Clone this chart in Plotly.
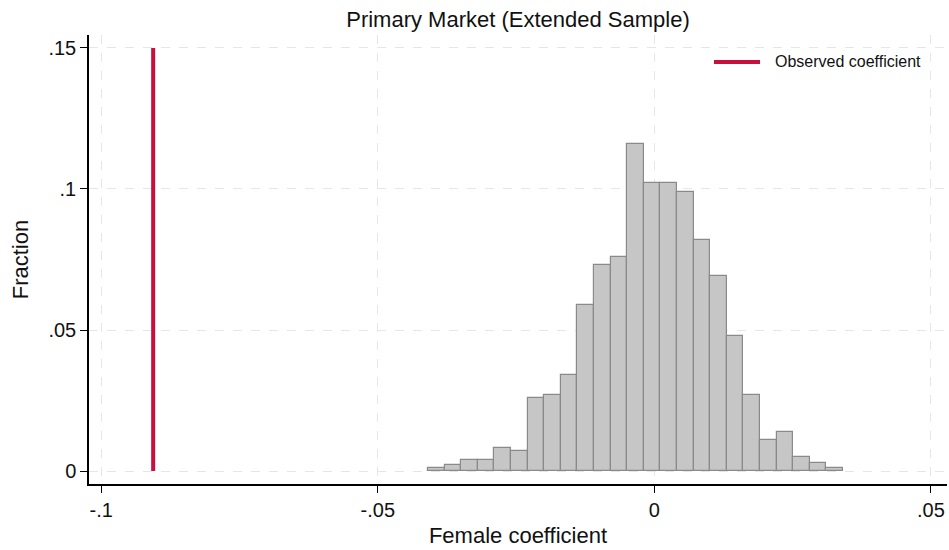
import plotly.graph_objects as go

# Histogram of placebo coefficients (fraction per bin)
bin_start = -0.0409
bin_width = 0.003
fractions = [0.001, 0.002, 0.004, 0.004, 0.008, 0.007, 0.026, 0.027, 0.034, 0.059,
             0.073, 0.076, 0.116, 0.102, 0.102, 0.099, 0.082, 0.069, 0.048, 0.027,
             0.011, 0.014, 0.005, 0.003, 0.001]
observed_coef = -0.0906
observed_line_y = [0, 0.15]
legend_label = "Observed coefficient"

x_tickvals = [-0.1, -0.05, 0, 0.05]
x_ticktext = ["-.1", "-.05", "0", ".05"]
y_tickvals = [0, 0.05, 0.1, 0.15]
y_ticktext = ["0", ".05", ".1", ".15"]

centers = [bin_start + bin_width * (i + 0.5) for i in range(len(fractions))]

FONT = "Liberation Sans, Arial, Helvetica, sans-serif"
RED = "#c90f3d"

fig = go.Figure()
fig.add_trace(go.Bar(
    x=centers, y=fractions, width=[bin_width] * len(fractions),
    marker=dict(color="#c6c6c6", line=dict(color="#8a8a8a", width=1.2)),
    showlegend=False,
))
fig.add_trace(go.Scatter(
    x=[observed_coef, observed_coef], y=observed_line_y, mode="lines",
    line=dict(color=RED, width=4),
    name=legend_label, showlegend=False,
))

# legend key (drawn manually to match the longer key line)
fig.add_shape(type="line", xref="paper", yref="paper",
              x0=0.7284, x1=0.7821, y0=0.9399, y1=0.9399,
              line=dict(color=RED, width=4))
fig.add_annotation(xref="paper", yref="paper", x=0.7972, y=0.9399,
                   xanchor="left", yanchor="middle", showarrow=False,
                   text=legend_label, font=dict(size=16, family=FONT, color="#111111"))

fig.update_layout(
    width=949, height=550,
    margin=dict(l=89, r=2, t=35, b=66),
    paper_bgcolor="white", plot_bgcolor="white",
    font=dict(family=FONT, color="#111111"),
    title=dict(text="Primary Market (Extended Sample)", x=0.5, xref="paper",
               y=1 - 19 / 550, yref="container", yanchor="middle",
               font=dict(size=22, family=FONT, color="#111111")),
    bargap=0,
    showlegend=False,
)
fig.update_xaxes(
    range=[-0.1022, 0.0529], tickvals=x_tickvals, ticktext=x_ticktext,
    showline=True, linecolor="black", linewidth=1.5,
    ticks="outside", ticklen=7, tickcolor="black", tickwidth=1.2,
    showgrid=True, gridcolor="#e6e6e6", griddash="dash", gridwidth=1.2,
    zeroline=False, tickfont=dict(size=20),
    title=dict(text="Female coefficient", font=dict(size=22), standoff=8),
)
fig.update_yaxes(
    range=[-0.0046, 0.1546], tickvals=y_tickvals, ticktext=y_ticktext,
    showline=True, linecolor="black", linewidth=1.5,
    ticks="outside", ticklen=7, tickcolor="black", tickwidth=1.2,
    showgrid=True, gridcolor="#e6e6e6", griddash="dash", gridwidth=1.2,
    zeroline=False, tickfont=dict(size=20),
    title=dict(text="Fraction", font=dict(size=22), standoff=14),
)

fig.write_html("out.html")
